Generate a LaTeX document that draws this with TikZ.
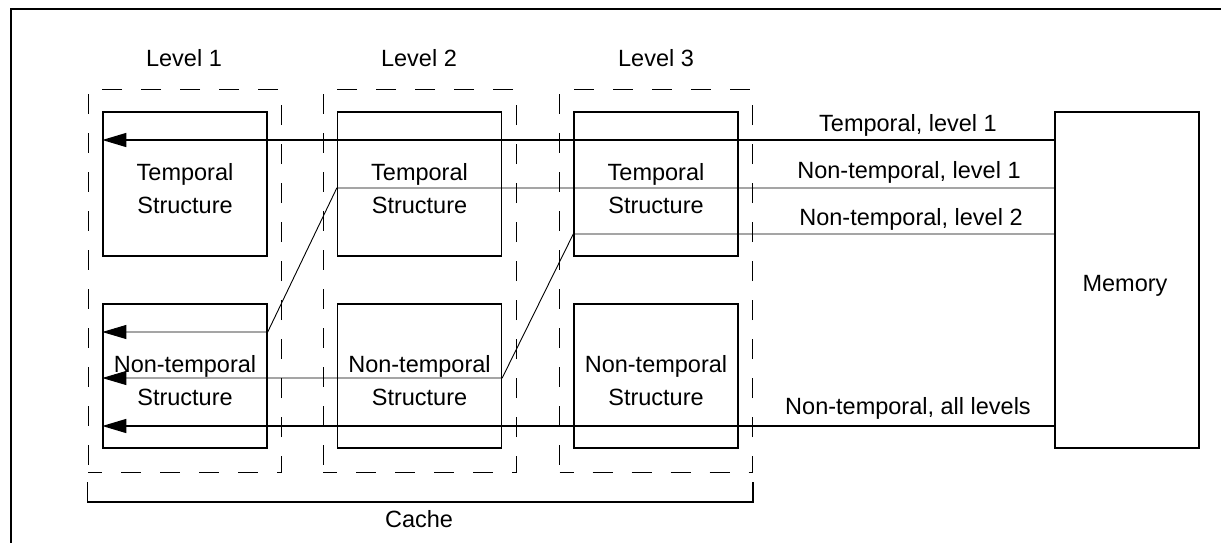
\documentclass[tikz,border=0pt]{standalone}
\usepackage{fontspec}
\setmainfont{Liberation Sans}
\usetikzlibrary{arrows.meta}
\begin{document}
\begin{tikzpicture}[x=0.5pt,y=-0.5pt,
  every node/.style={font=\fontsize{11.75}{16.5}\selectfont, inner sep=0pt},
  cbox/.style={draw, line width=0.7pt, minimum width=82pt, minimum height=72pt},
  btext/.style={align=center, yshift=-2.25pt},
  levelbox/.style={draw, line width=0.4pt, dash pattern=on 10pt off 9.5pt, dash phase=3pt, minimum width=96.5pt, minimum height=191.5pt},
  heavy/.style={line width=0.7pt},
  light/.style={line width=0.45pt},
  arr/.style={-{Triangle[length=12pt,width=7pt]}},
  lbl/.style={anchor=base}]
\useasboundingbox (0,0) rectangle (1221,543);
% frame
\draw[line width=0.6pt] (1221,9) -- (11,9) -- (11,543);
% level groups
\node[levelbox] (L1) at (184.5,280.5) {};
\node[levelbox] (L2) at (419.5,280.5) {};
\node[levelbox] (L3) at (656,280.5) {};
\node[lbl] (lv1) at (184,66) {Level 1};
\node[lbl] (lv2) at (419,66) {Level 2};
\node[lbl] (lv3) at (656,66) {Level 3};
% structures
\node[cbox] (t1) at (185,184) {};
\node[cbox] (n1) at (185,376) {};
\node[cbox] (t2) at (419.5,184) {};
\node[cbox] (n2) at (419.5,376) {};
\node[cbox] (t3) at (656,184) {};
\node[cbox] (n3) at (656,376) {};
\node[btext] (t1x) at (t1.center) {Temporal\\Structure};
\node[btext] (n1x) at (n1.center) {Non-temporal\\Structure};
\node[btext] (t2x) at (t2.center) {Temporal\\Structure};
\node[btext] (n2x) at (n2.center) {Non-temporal\\Structure};
\node[btext] (t3x) at (t3.center) {Temporal\\Structure};
\node[btext] (n3x) at (n3.center) {Non-temporal\\Structure};
\node[draw, line width=0.7pt, minimum width=72pt, minimum height=168pt] (mem) at (1127,280) {};
\node[yshift=-3pt] (memx) at ([xshift=-1pt]mem.center) {Memory};
% line levels
\coordinate (ya) at (0,140);
\coordinate (yb) at (0,188);
\coordinate (yc) at (0,234);
\coordinate (yd) at (0,426);
\coordinate (ye) at (0,332);
\coordinate (yf) at (0,378);
\coordinate (cb) at (0,482);
\coordinate (cc) at (0,502);
% connectors
\draw[heavy,arr] (mem.west |- ya) -- (t1.west |- ya);
\draw[light,arr] (mem.west |- yb) -- (t2.west |- yb) -- (n1.east |- ye) -- (n1.west |- ye);
\draw[light,arr] (mem.west |- yc) -- (t3.west |- yc) -- (n2.east |- yf) -- (n1.west |- yf);
\draw[heavy,arr] (mem.west |- yd) -- (n1.west |- yd);
% labels
\node[lbl] (la) at (908,131) {Temporal, level 1};
\node[lbl] (lb) at (909,178) {Non-temporal, level 1};
\node[lbl] (lc) at (911,225) {Non-temporal, level 2};
\node[lbl] (ld) at (908,414) {Non-temporal, all levels};
% cache bracket
\draw[heavy] (L1.west |- cb) -- (L1.west |- cc) -- (L3.east |- cc) -- (L3.east |- cb);
\node[lbl] (cache) at (419,527) {Cache};
\end{tikzpicture}
\end{document}
